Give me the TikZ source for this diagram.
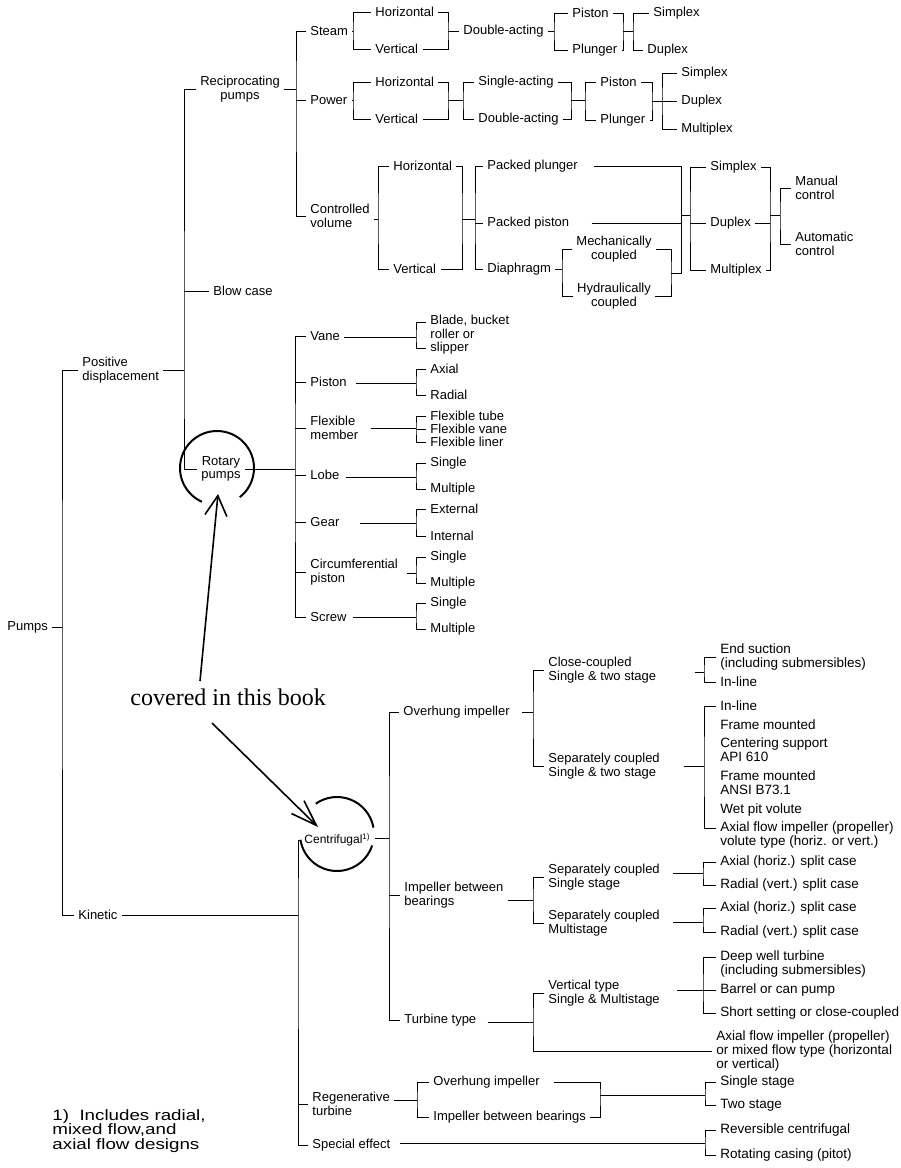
\documentclass[tikz,border=0pt]{standalone}
\usepackage{fontspec}
\newfontfamily\lsans{Liberation Sans}
\newfontfamily\lserif{Liberation Serif}
\newfontfamily\lfoot[FakeStretch=1.25]{Liberation Sans}
\usetikzlibrary{arrows.meta}
\begin{document}
\begin{tikzpicture}[x=1pt,y=-1pt,line width=0.9pt,
  lab/.style={font=\lsans\fontsize{13}{13.5}\selectfont, anchor=west, align=left, inner xsep=4pt, inner ysep=1pt, xshift=-4pt},
  labc/.style={font=\lsans\fontsize{13}{13.5}\selectfont, align=center, inner xsep=4pt, inner ysep=1pt},
  leaf/.style={lab, font=\lsans\fontsize{13.5}{14}\selectfont},
  circ/.style={line width=2pt},
  arr/.style={line width=1.6pt, -{Straight Barb[length=20pt,width=22pt]}},
  arrb/.style={line width=1.6pt, -{Straight Barb[length=26pt,width=18pt]}},
]
\useasboundingbox (0,0) rectangle (901,1168);
\fill[white] (0,0) rectangle (901,1168);

% ---------- top level ----------
\node[lab] (pumps) at (7,627) {Pumps};
\node[lab] (posd) at (82,370) {Positive\\displacement};
\node[lab] (kin) at (78,915) {Kinetic};
\coordinate (j0) at (62,627);
\draw (pumps.east |- j0) -- (j0);
\draw (posd.west) -| (j0) |- (kin.west);

% ---------- positive displacement ----------
\coordinate (jpd) at (184,370);
\draw (posd.east |- jpd) -- (jpd);
\node[labc] (recip) at (240,89) {Reciprocating\\pumps};
\node[lab] (blow) at (213,291) {Blow case};
\node[labc] (rot) at (221,469) {Rotary\\pumps};
\draw (recip.west) -| (jpd) |- (rot.west);
\draw (blow.west -| jpd) -- (blow.west);

% reciprocating
\coordinate (jrc) at (296,89);
\draw (recip.east |- jrc) -- (jrc);
\node[lab] (steam) at (310,31) {Steam};
\node[lab] (power) at (310,100) {Power};
\node[lab] (cvol) at (310,216) {Controlled\\volume};
\draw (steam.west) -| (jrc) |- (cvol.west);
\draw (power.west -| jrc) -- (power.west);

% steam
\coordinate (js1) at (353,31);
\draw (steam.east) -- (js1);
\node[lab] (sh) at (375,12) {Horizontal};
\node[lab] (sv) at (375,49) {Vertical};
\draw (sh.west) -| (js1) |- (sv.west);
\coordinate (js2) at (448,31);
\draw (sh.east) -| (js2) |- (sv.east);
\node[lab] (sda) at (463,31) {Double-acting};
\draw (js2) -- (sda.west);
\coordinate (js3) at (554,31);
\draw (sda.east) -- (js3);
\node[lab] (spi) at (572,13) {Piston};
\node[lab] (spl) at (572,50) {Plunger};
\draw (spi.west) -| (js3) |- (spl.west);
\coordinate (js4) at (623,31);
\draw (spi.east) -| (js4) |- (spl.east);
\coordinate (js5) at (633,31);
\draw (js4) -- (js5);
\node[lab] (ssi) at (653,13) {Simplex};
\node[lab] (sdu) at (647,50) {Duplex};
\draw (ssi.west) -| (js5) |- (sdu.west);

% power
\coordinate (jp1) at (353,100);
\draw (power.east) -- (jp1);
\node[lab] (ph) at (375,82) {Horizontal};
\node[lab] (pv) at (375,119) {Vertical};
\draw (ph.west) -| (jp1) |- (pv.west);
\coordinate (jp2) at (448,100);
\draw (ph.east) -| (jp2) |- (pv.east);
\coordinate (jp3) at (463,100);
\draw (jp2) -- (jp3);
\node[lab] (psa) at (478,82) {Single-acting};
\node[lab] (pda) at (478,119) {Double-acting};
\draw (psa.west) -| (jp3) |- (pda.west);
\coordinate (jp4) at (571,100);
\draw (psa.east) -| (jp4) |- (pda.east);
\coordinate (jp5) at (585,100);
\draw (jp4) -- (jp5);
\node[lab] (ppi) at (600,82) {Piston};
\node[lab] (ppl) at (600,120) {Plunger};
\draw (ppi.west) -| (jp5) |- (ppl.west);
\coordinate (jp6) at (652,101);
\draw (ppi.east) -| (jp6) |- (ppl.east);
\coordinate (jp7) at (662,101);
\draw (jp6) -- (jp7);
\node[lab] (psi) at (681,73) {Simplex};
\node[lab] (pdu) at (681,101) {Duplex};
\node[lab] (pmu) at (681,129) {Multiplex};
\draw (psi.west) -| (jp7) |- (pmu.west);
\draw (jp7) -- (pdu.west);

% controlled volume
\coordinate (jc1) at (378,219);
\draw (cvol.east |- jc1) -- (jc1);
\node[lab] (ch) at (393,166) {Horizontal};
\node[lab] (cv) at (393,269) {Vertical};
\draw (ch.west) -| (jc1) |- (cv.west);
\coordinate (jc2) at (462,219);
\draw (ch.east) -| (jc2) |- (cv.east);
\coordinate (jc3) at (475,219);
\draw (jc2) -- (jc3);
\node[lab] (cpp) at (487,166) {Packed plunger};
\node[lab] (cpi) at (487,223) {Packed piston};
\node[lab] (cdi) at (487,269) {Diaphragm};
\draw (cpp.west) -| (jc3) |- (cdi.west);
\draw (jc3 |- cpi.west) -- (cpi.west);
\coordinate (jc4) at (562,269);
\draw (cdi.east) -- (jc4);
\node[labc] (cme) at (614,249) {Mechanically\\coupled};
\node[labc] (chy) at (614,296) {Hydraulically\\coupled};
\draw (cme.west) -| (jc4) |- (chy.west);
\coordinate (jc5) at (671,273);
\draw (cme.east) -| (jc5) |- (chy.east);
\coordinate (jc6) at (681,215);
\draw[shorten <=12pt] (cpp.east) -| (jc6);
\draw (jc6) |- (jc5);
\draw[shorten <=18pt] (cpi.east) -- (cpi.east -| jc6);
\coordinate (jc7) at (690,215);
\draw (jc6) -- (jc7);
\node[lab] (csi) at (710,167) {Simplex};
\node[lab] (cdu) at (710,223) {Duplex};
\node[lab] (cmu) at (710,270) {Multiplex};
\draw (csi.west) -| (jc7) |- (cmu.west);
\draw (jc7 |- cdu.west) -- (cdu.west);
\coordinate (jc8) at (770,215);
\draw (csi.east) -| (jc8) |- (cmu.east);
\draw (cdu.east) -- (cdu.east -| jc8);
\coordinate (jc9) at (780,215);
\draw (jc8) -- (jc9);
\node[lab] (cma) at (795,188) {Manual\\control};
\node[lab] (cau) at (795,244) {Automatic\\control};
\draw (cma.west) -| (jc9) |- (cau.west);

% rotary
\coordinate (jr) at (295,469);
\draw (rot.east |- jr) -- (jr);
\node[lab] (rva) at (310,336) {Vane};
\node[lab] (rpi) at (310,382) {Piston};
\node[lab] (rfl) at (310,428) {Flexible\\member};
\node[lab] (rlo) at (310,475) {Lobe};
\node[lab] (rge) at (310,522) {Gear};
\node[lab] (rci) at (310,572) {Circumferential\\piston};
\node[lab] (rsc) at (310,617) {Screw};
\draw (rva.west) -| (jr) |- (rsc.west);
\draw (jr |- rpi.west) -- (rpi.west);
\draw (jr |- rfl.west) -- (rfl.west);
\draw (jr |- rlo.west) -- (rlo.west);
\draw (jr |- rge.west) -- (rge.west);
\draw (jr |- rci.west) -- (rci.west);

\coordinate (jva) at (416,337);
\draw (rva.east |- jva) -- (jva);
\node[lab] (lva) at (430,335) {Blade, bucket\\roller or\\slipper};
\draw ([yshift=13pt]lva.west) -| (jva) |- ([yshift=-13pt]lva.west);

\coordinate (jpi) at (416,383);
\draw[shorten <=5pt] (rpi.east |- jpi) -- (jpi);
\node[lab] (lpa) at (430,369) {Axial};
\node[lab] (lpr) at (430,395) {Radial};
\draw (lpa.west) -| (jpi) |- (lpr.west);

\coordinate (jfl) at (416,428);
\draw[shorten <=8pt] (rfl.east |- jfl) -- (jfl);
\node[lab] (lf1) at (430,416) {Flexible tube};
\node[lab] (lf2) at (430,429) {Flexible vane};
\node[lab] (lf3) at (430,442) {Flexible liner};
\draw (lf1.west) -| (jfl) |- (lf3.west);
\draw (jfl |- lf2.west) -- (lf2.west);

\coordinate (jlo) at (416,477);
\draw[shorten <=2pt] (rlo.east |- jlo) -- (jlo);
\node[lab] (llo1) at (430,463) {Single};
\node[lab] (llo2) at (430,489) {Multiple};
\draw (llo1.west) -| (jlo) |- (llo2.west);

\coordinate (jge) at (416,523);
\draw[shorten <=16pt] (rge.east |- jge) -- (jge);
\node[lab] (lge1) at (430,509) {External};
\node[lab] (lge2) at (430,536) {Internal};
\draw (lge1.west) -| (jge) |- (lge2.west);

\coordinate (jci) at (416,573);
\draw[shorten <=5pt] (rci.east |- jci) -- (jci);
\node[lab] (lci1) at (430,557) {Single};
\node[lab] (lci2) at (430,583) {Multiple};
\draw (lci1.west) -| (jci) |- (lci2.west);

\coordinate (jsc) at (416,617);
\draw[shorten <=2pt] (rsc.east |- jsc) -- (jsc);
\node[lab] (lsc1) at (430,603) {Single};
\node[lab] (lsc2) at (430,629) {Multiple};
\draw (lsc1.west) -| (jsc) |- (lsc2.west);

% ---------- kinetic ----------
\coordinate (jk) at (298,915);
\draw (kin.east |- jk) -- (jk);
\node[lab, font=\lsans\fontsize{12}{13}\selectfont] (cen) at (304,840) {Centrifugal\textsuperscript{1)}};
\node[lab] (reg) at (312,1104) {Regenerative\\turbine};
\node[lab] (spe) at (312,1145) {Special effect};
\draw (cen.west) -| (jk) |- (spe.west);
\draw (jk |- reg.west) -- (reg.west);

% centrifugal
\coordinate (jce) at (389,838);
\draw (cen.east |- jce) -- (jce);
\node[lab] (ovh) at (403,712) {Overhung impeller};
\node[lab] (ibb) at (404,895) {Impeller between\\bearings};
\node[lab] (tur) at (404,1020) {Turbine type};
\draw (ovh.west) -| (jce) |- (tur.west);
\draw (jce |- ibb.west) -- (ibb.west);

% overhung
\coordinate (jo1) at (533,712);
\draw[shorten <=8pt] (ovh.east) -- (jo1);
\node[lab] (occ) at (548,670) {Close-coupled\\Single \& two stage};
\node[lab] (osc) at (548,766) {Separately coupled\\Single \& two stage};
\draw (occ.west) -| (jo1) |- (osc.west);
\coordinate (jo2) at (704,672);
\draw[shorten <=34pt] (occ.east |- jo2) -- (jo2);
\node[leaf] (e1) at (720,657) {End suction\\(including submersibles)};
\node[leaf] (e2) at (720,682) {In-line};
\draw (e1.west) -| (jo2) |- (e2.west);
\coordinate (jo3) at (704,766);
\draw[shorten <=20pt] (osc.east |- jo3) -- (jo3);
\node[leaf] (f1) at (720,706) {In-line};
\node[leaf] (f2) at (720,725) {Frame mounted};
\node[leaf] (f3) at (720,750) {Centering support\\API 610};
\node[leaf] (f4) at (720,783) {Frame mounted\\ANSI B73.1};
\node[leaf] (f5) at (720,810) {Wet pit volute};
\node[leaf] (f6) at (720,835) {Axial flow impeller (propeller)\\volute type (horiz. or vert.)};
\draw (f1.west) -| (jo3) |- ([yshift=7pt]f6.west);

% impeller between bearings
\coordinate (ji1) at (533,900);
\draw (ibb.east |- ji1) -- (ji1);
\node[lab] (iss) at (548,877) {Separately coupled\\Single stage};
\node[lab] (ims) at (548,923) {Separately coupled\\Multistage};
\draw (iss.west) -| (ji1) |- (ims.west);
\coordinate (ji2) at (703,873);
\draw[shorten <=9pt] (iss.east |- ji2) -- (ji2);
\node[leaf] (a1) at (720,862) {Axial (horiz.) split case};
\node[leaf] (r1) at (720,885) {Radial (vert.) split case};
\draw (a1.west) -| (ji2) |- (r1.west);
\coordinate (ji3) at (703,922);
\draw[shorten <=9pt] (ims.east |- ji3) -- (ji3);
\node[leaf] (a2) at (720,908) {Axial (horiz.) split case};
\node[leaf] (r2) at (720,932) {Radial (vert.) split case};
\draw (a2.west) -| (ji3) |- (r2.west);

% turbine type
\coordinate (jt1) at (533,1022);
\draw[shorten <=7pt] (tur.east |- jt1) -- (jt1);
\node[lab] (tvt) at (548,993) {Vertical type\\Single \& Multistage};
\node[leaf] (tax) at (716,1051) {Axial flow impeller (propeller)\\or mixed flow type (horizontal\\or vertical)};
\draw (tvt.west) -| (jt1) |- (tax.west);
\coordinate (jt2) at (703,990);
\draw[shorten <=13pt] (tvt.east |- jt2) -- (jt2);
\node[leaf] (dw) at (720,964) {Deep well turbine\\(including submersibles)};
\node[leaf] (bc) at (720,990) {Barrel or can pump};
\node[leaf] (ss) at (720,1013) {Short setting or close-coupled};
\draw ([yshift=7pt]dw.west) -| (jt2) |- (ss.west);
\draw (jt2) -- (bc.west);

% regenerative turbine
\coordinate (jg1) at (417,1100);
\draw (reg.east |- jg1) -- (jg1);
\node[lab] (go) at (433,1082) {Overhung impeller};
\node[lab] (gi) at (433,1117) {Impeller between bearings};
\draw (go.west) -| (jg1) |- (gi.west);
\coordinate (jg2) at (600,1095);
\draw[shorten <=10pt] (go.east) -| (jg2) |- (gi.east);
\coordinate (jg3) at (705,1095);
\draw (jg2) -- (jg3);
\node[leaf] (g1) at (720,1082) {Single stage};
\node[leaf] (g2) at (720,1105) {Two stage};
\draw (g1.west) -| (jg3) |- (g2.west);

% special effect
\coordinate (jse) at (705,1143);
\draw[shorten <=5pt] (spe.east |- jse) -- (jse);
\node[leaf] (x1) at (720,1130) {Reversible centrifugal};
\node[leaf] (x2) at (720,1155) {Rotating casing (pitot)};
\draw (x1.west) -| (jse) |- (x2.west);

% ---------- footnote ----------
\node[anchor=west, align=left, inner sep=0pt, font=\lfoot\fontsize{15}{14.5}\selectfont] (fn) at (52,1131) {1)\ \ Includes radial,\\mixed flow,and\\axial flow designs};

% ---------- annotation ----------
\node[anchor=base west, inner sep=0pt, font=\lserif\fontsize{24}{26}\selectfont] (cov) at (130,705) {covered in this book};
\draw[circ] (217,468) ++(-52:37pt) arc[start angle=-52, end angle=246, radius=37pt];
\draw[circ] (337,834) ++(10:37pt) arc[start angle=10, end angle=125, radius=37pt];
\draw[circ] (337,834) ++(189:37pt) arc[start angle=189, end angle=342, radius=37pt];
\coordinate (a1t) at (200,681);
\coordinate (a1h) at (218,494);
\draw[arr] (a1t) -- (a1h);
\coordinate (a2t) at (212,723);
\coordinate (a2h) at (318,827);
\draw[arrb] (a2t) -- (a2h);
\end{tikzpicture}
\end{document}
